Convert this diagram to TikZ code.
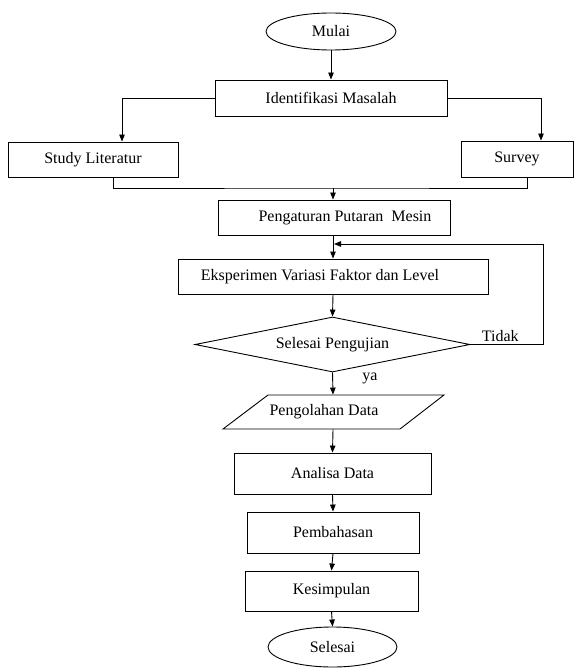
\documentclass[tikz,border=0pt]{standalone}
\usepackage{fontspec}
\setmainfont{Liberation Serif}
\usetikzlibrary{shapes.geometric,arrows.meta}
\begin{document}
\begin{tikzpicture}[x=1pt,y=-1pt,
  font=\fontsize{16}{19}\selectfont,
  every path/.style={line width=0.9pt},
  box/.style={draw, rectangle, inner sep=0pt},
  term/.style={draw, ellipse, inner sep=0pt},
  dec/.style={draw, diamond, aspect=5, inner sep=0pt},
  arr/.style={-{Triangle[length=7pt,width=5.5pt]}},
  lbl/.style={inner sep=0pt}]
\useasboundingbox (0,0) rectangle (574,668);
\node[term, minimum width=130pt, minimum height=37pt] (mulai) at (331,31.5) {Mulai};
\node[box, minimum width=232pt, minimum height=36pt] (ident) at (331,98) {Identifikasi Masalah};
\node[box, minimum width=170pt, minimum height=35pt] (study) at (93,159.5) {Study Literatur};
\node[box, minimum width=112pt, minimum height=36pt] (survey) at (517,159) {Survey};
\node[box, minimum width=232pt, minimum height=35pt] (peng) at (334,217.5) {\hspace*{22pt}Pengaturan Putaran\ \ Mesin};
\node[box, minimum width=310pt, minimum height=35pt] (eksp) at (333,276.5) {Eksperimen Variasi Faktor dan Level\hspace*{26pt}};
\node[dec, minimum width=275pt, minimum height=55pt] (seles) at (332.5,344.5) {Selesai Pengujian};
\draw (223,429) -- (400,429) -- (444,395) -- (268,395) -- cycle;
\node[lbl, minimum width=170pt, minimum height=34pt] (olah) at (333,412) {Pengolahan Data\hspace*{18pt}};
\node[box, minimum width=197pt, minimum height=41pt] (anal) at (332.5,473.5) {Analisa Data};
\node[box, minimum width=172pt, minimum height=41pt] (bahas) at (333,532.5) {Pembahasan};
\node[box, minimum width=173pt, minimum height=40pt] (simp) at (331.5,591) {Kesimpulan};
\node[term, minimum width=129pt, minimum height=40pt] (selesai) at (332.5,647) {Selesai};

\coordinate (merge) at (333,188);
\coordinate (loopin) at (334,244);

\draw[arr] (mulai) -- (ident);
\draw[arr] (ident.west) -| ([xshift=29pt]study.north);
\draw[arr] (ident.east) -| ([xshift=24pt]survey.north);
\draw ([xshift=20pt]study.south) |- (merge) -| ([xshift=10pt]survey.south);
\draw[arr] (merge) -- (merge |- peng.north);
\draw[arr] (peng.south -| merge) -- (eksp.north -| merge);
\draw[arr] (eksp.south) -- (seles.north);
\draw[arr] (seles.east) -- ++(73,0) |- (loopin);
\node[lbl, anchor=south west] (tidak) at ([xshift=11pt,yshift=2pt]seles.east) {Tidak};
\node[lbl] (ya) at (370,378) {ya};
\draw[arr] (seles.south) -- (olah.north);
\draw[arr] (olah.south) -- (anal.north);
\draw[arr] (anal.south) -- (bahas.north);
\draw[arr] (bahas.south) -- (simp.north);
\draw[arr] (simp.south) -- (selesai.north);
\end{tikzpicture}
\end{document}
